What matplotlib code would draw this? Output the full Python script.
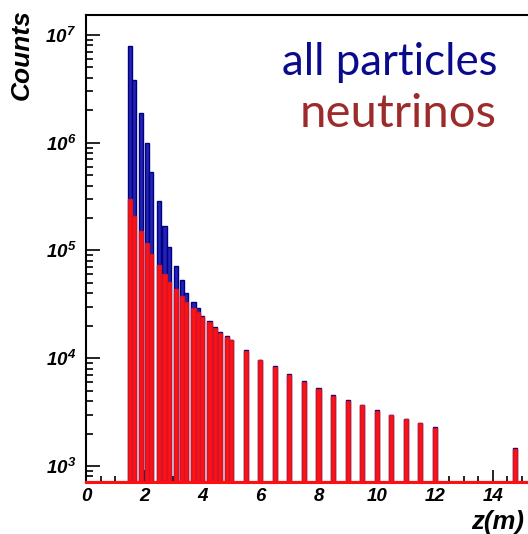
import numpy as np
import matplotlib
matplotlib.use("Agg")
import matplotlib.pyplot as plt
from matplotlib.ticker import MultipleLocator, FixedLocator, LogLocator, FuncFormatter, NullFormatter

# z-positions of the filled bins (m)
zPos = [1.5, 1.65, 1.9, 2.1, 2.25, 2.5, 2.7, 2.85, 3.1, 3.3, 3.45, 3.7, 3.85,
        4.0, 4.25, 4.45, 4.6, 4.85, 5.0, 5.5, 6.0, 6.5, 7.0, 7.5, 8.0, 8.5,
        9.0, 9.5, 10.0, 10.5, 11.0, 11.5, 12.0, 14.75]

# counts, all particles
alle = [7.9e6, 3.8e6, 1.9e6, 9.9e5, 5.3e5, 2.9e5, 1.7e5, 1.08e5, 7.2e4, 5.3e4,
        4.0e4, 3.3e4, 2.95e4, 2.45e4, 2.2e4, 1.95e4, 1.75e4, 1.6e4, 1.48e4,
        1.18e4, 9.7e3, 8.4e3, 7.1e3, 6.1e3, 5.25e3, 4.55e3, 4.1e3, 3.7e3,
        3.3e3, 3.0e3, 2.75e3, 2.5e3, 2.28e3, 1.46e3]

# counts, neutrinos only
nøytrino = [3.0e5, 2.1e5, 1.53e5, 1.16e5, 9.2e4, 7.4e4, 6.1e4, 5.1e4, 4.4e4,
            3.75e4, 3.3e4, 2.9e4, 2.7e4, 2.4e4, 2.15e4, 1.92e4, 1.73e4, 1.57e4,
            1.46e4, 1.17e4, 9.6e3, 8.3e3, 7.0e3, 6.0e3, 5.2e3, 4.5e3, 4.05e3,
            3.65e3, 3.25e3, 2.97e3, 2.72e3, 2.48e3, 2.26e3, 1.45e3]

xTicks = [0, 2, 4, 6, 8, 10, 12, 14]

ymin = 710
ymax = 1.53e7
bredde = 0.14

plt.rcParams['mathtext.fontset'] = 'custom'
plt.rcParams['mathtext.rm'] = 'Liberation Sans:italic:bold'
plt.rcParams['mathtext.it'] = 'Liberation Sans:italic:bold'
plt.rcParams['mathtext.bf'] = 'Liberation Sans:italic:bold'

fig = plt.figure(figsize=(5.28, 5.34), dpi=100)
ax = fig.add_axes([86/528, 52/534, 465/528, 467/534])

ax.set_yscale('log')
# bars start at 0, the log axis clips them at the bottom
ax.bar(zPos, alle, width=bredde, color='#2222b4', edgecolor='#000080', linewidth=1.0, zorder=2)
ax.bar(zPos, nøytrino, width=bredde, color='#ff1212', edgecolor='#d0142c', linewidth=1.0, zorder=3)
ax.axhline(ymin, color='#ff1010', lw=2.2, zorder=4, clip_on=False)

ax.set_xlim(0, 16)
ax.set_ylim(ymin, ymax)

ax.xaxis.set_major_locator(FixedLocator(xTicks))
ax.xaxis.set_minor_locator(MultipleLocator(0.5))
ax.yaxis.set_major_locator(LogLocator(base=10, numticks=10))
ax.yaxis.set_minor_locator(LogLocator(base=10, subs=np.arange(2, 10), numticks=10))
ax.yaxis.set_minor_formatter(NullFormatter())
ax.yaxis.set_major_formatter(FuncFormatter(lambda v, p: r'$10^{%d}$' % round(np.log10(v))))

ax.tick_params(axis='both', which='both', direction='in', width=1.2, colors='k')
ax.tick_params(axis='x', which='major', length=9, pad=4, labelsize=13.5)
ax.tick_params(axis='x', which='minor', length=4.5)
ax.tick_params(axis='y', which='major', length=10, pad=7, labelsize=13.5)
ax.tick_params(axis='y', which='minor', length=5)
for lab in ax.get_xticklabels():
    lab.set_fontfamily('Liberation Sans')
    lab.set_fontweight('bold')
    lab.set_fontstyle('italic')

for s in ['left', 'top', 'bottom']:
    ax.spines[s].set_linewidth(1.5)
ax.spines['right'].set_visible(False)

fig.text(22/528, 1 - 9/534, 'Counts', rotation=90, ha='center', va='top',
         fontsize=19, fontweight='bold', fontstyle='italic', family='Liberation Sans')
fig.text(524/528, 1 - 522/534, 'z(m)', ha='right', va='center',
         fontsize=18.5, fontweight='bold', fontstyle='italic', family='Liberation Sans')

fig.text(497/528, 1 - 75/534, 'all particles', ha='right', va='baseline',
         fontsize=31.5, color='#0a0a8c', family='Lato')
fig.text(497/528, 1 - 127/534, 'neutrinos', ha='right', va='baseline',
         fontsize=34, color='#9e2b2b', family='Lato')

fig.savefig('out.png', dpi=100)
